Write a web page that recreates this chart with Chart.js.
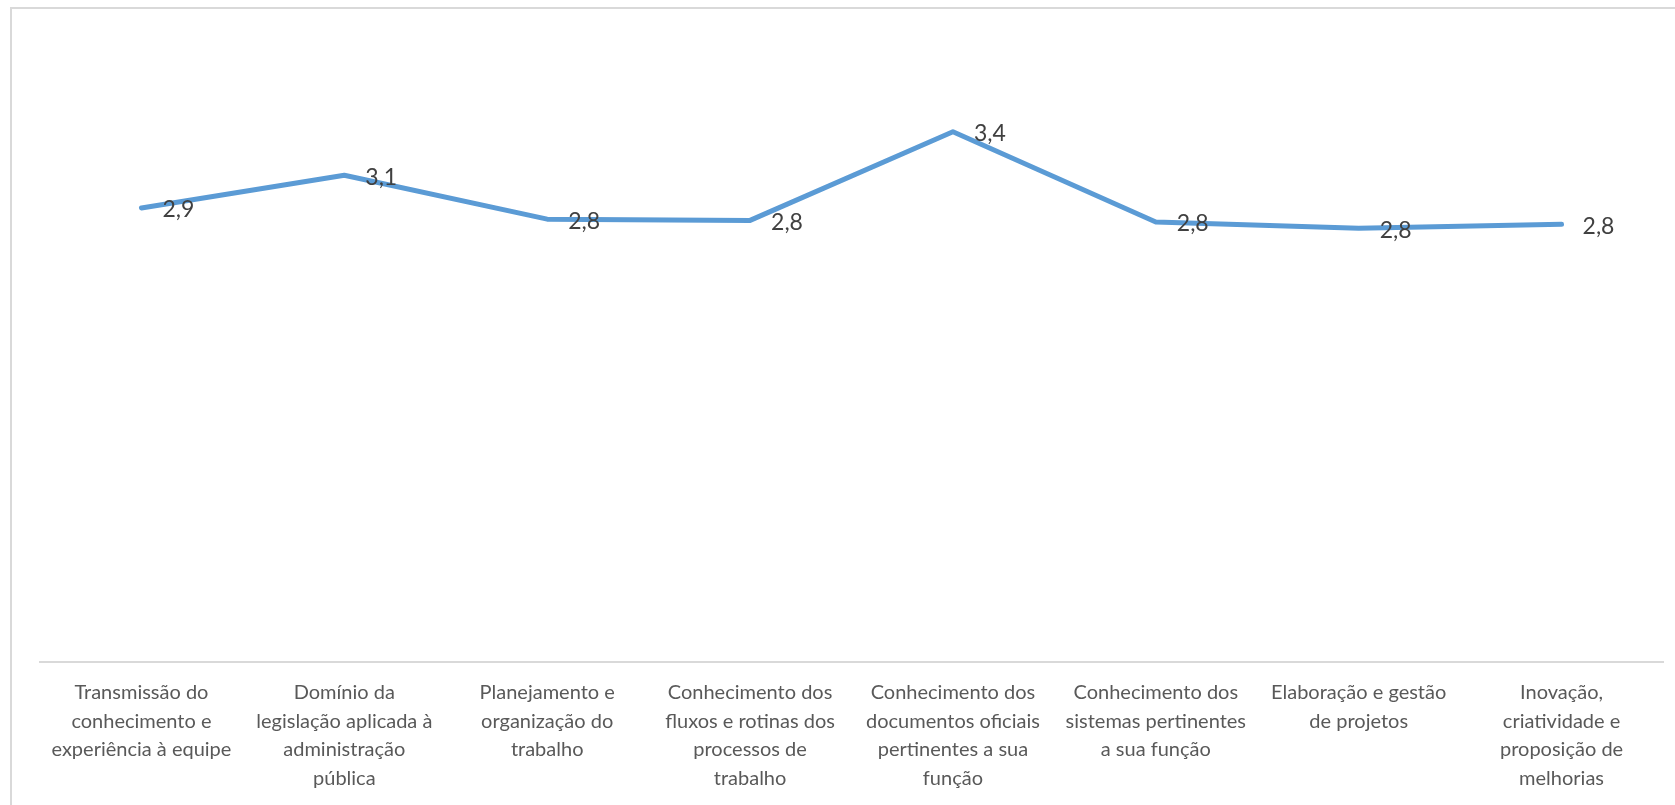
<!DOCTYPE html>
<html>
<head>
<meta charset="utf-8">
<script src="https://cdn.jsdelivr.net/npm/chart.js@4/dist/chart.umd.min.js"></script>
<style>
  html, body { margin: 0; padding: 0; background: #fff; overflow: hidden; }
  #frame {
    position: absolute; left: 10px; top: 7px; right: -5px; bottom: -5px;
    border-left: 2px solid #d9d9d9; border-top: 2px solid #d9d9d9;
  }
  #wrap { position: absolute; left: 0; top: 0; width: 1675px; height: 805px; }
</style>
</head>
<body>
<div id="frame"></div>
<div id="wrap"><canvas id="linechart"></canvas></div>
<script>
var categories = [
    ["Transmissão do", "conhecimento e", "experiência à equipe"],
    ["Domínio da", "legislação aplicada à", "administração", "pública"],
    ["Planejamento e", "organização do", "trabalho"],
    ["Conhecimento dos", "fluxos e rotinas dos", "processos de", "trabalho"],
    ["Conhecimento dos", "documentos oficiais", "pertinentes a sua", "função"],
    ["Conhecimento dos", "sistemas pertinentes", "a sua função"],
    ["Elaboração e gestão", "de projetos"],
    ["Inovação,", "criatividade e", "proposição de", "melhorias"]
];
var scores = [2.92, 3.13, 2.848, 2.84, 3.41, 2.83, 2.79, 2.815];
// the labels show one decimal, as in the source chart
var scoreLabels = ["2,9", "3,1", "2,8", "2,8", "3,4", "2,8", "2,8", "2,8"];
var yMin = 0;
var yMax = 4;

// value labels to the right of each point, like Excel's "right" position
var valueLabels = {
    id: 'valueLabels',
    afterDatasetsDraw: function (chart) {
        var ctx = chart.ctx;
        var meta = chart.getDatasetMeta(0);
        ctx.save();
        ctx.font = '23px Lato';
        ctx.fillStyle = '#404040';
        ctx.textAlign = 'left';
        ctx.textBaseline = 'middle';
        meta.data.forEach(function (pt, i) {
            ctx.fillText(scoreLabels[i], pt.x + 21, pt.y + 2);
        });
        ctx.restore();
    }
};

var linechart = document.getElementById('linechart');

new Chart(linechart, {
    type: 'line',
    data: {
        labels: categories,
        datasets: [{
            data: scores,
            borderColor: '#5b9bd5',
            borderWidth: 5,
            borderCapStyle: 'round',
            borderJoinStyle: 'round',
            pointRadius: 0,
            pointHoverRadius: 0,
            tension: 0,
            fill: false
        }]
    },
    options: {
        responsive: true,
        maintainAspectRatio: false,
        animation: false,
        layout: { padding: { left: 40, right: 12, top: 40, bottom: 0 } },
        plugins: {
            legend: { display: false },
            tooltip: { enabled: false }
        },
        scales: {
            x: {
                offset: true,
                grid: { display: false, drawTicks: false },
                border: { display: true, color: '#d9d9d9', width: 2 },
                ticks: {
                    autoSkip: false,
                    maxRotation: 0,
                    padding: 16,
                    color: '#595959',
                    font: { family: 'Lato', size: 20, lineHeight: 1.44 }
                },
                afterFit: function (scale) { scale.height = 143; }
            },
            y: {
                display: false,
                min: yMin,
                max: yMax
            }
        }
    },
    plugins: [valueLabels]
});
</script>
</body>
</html>
